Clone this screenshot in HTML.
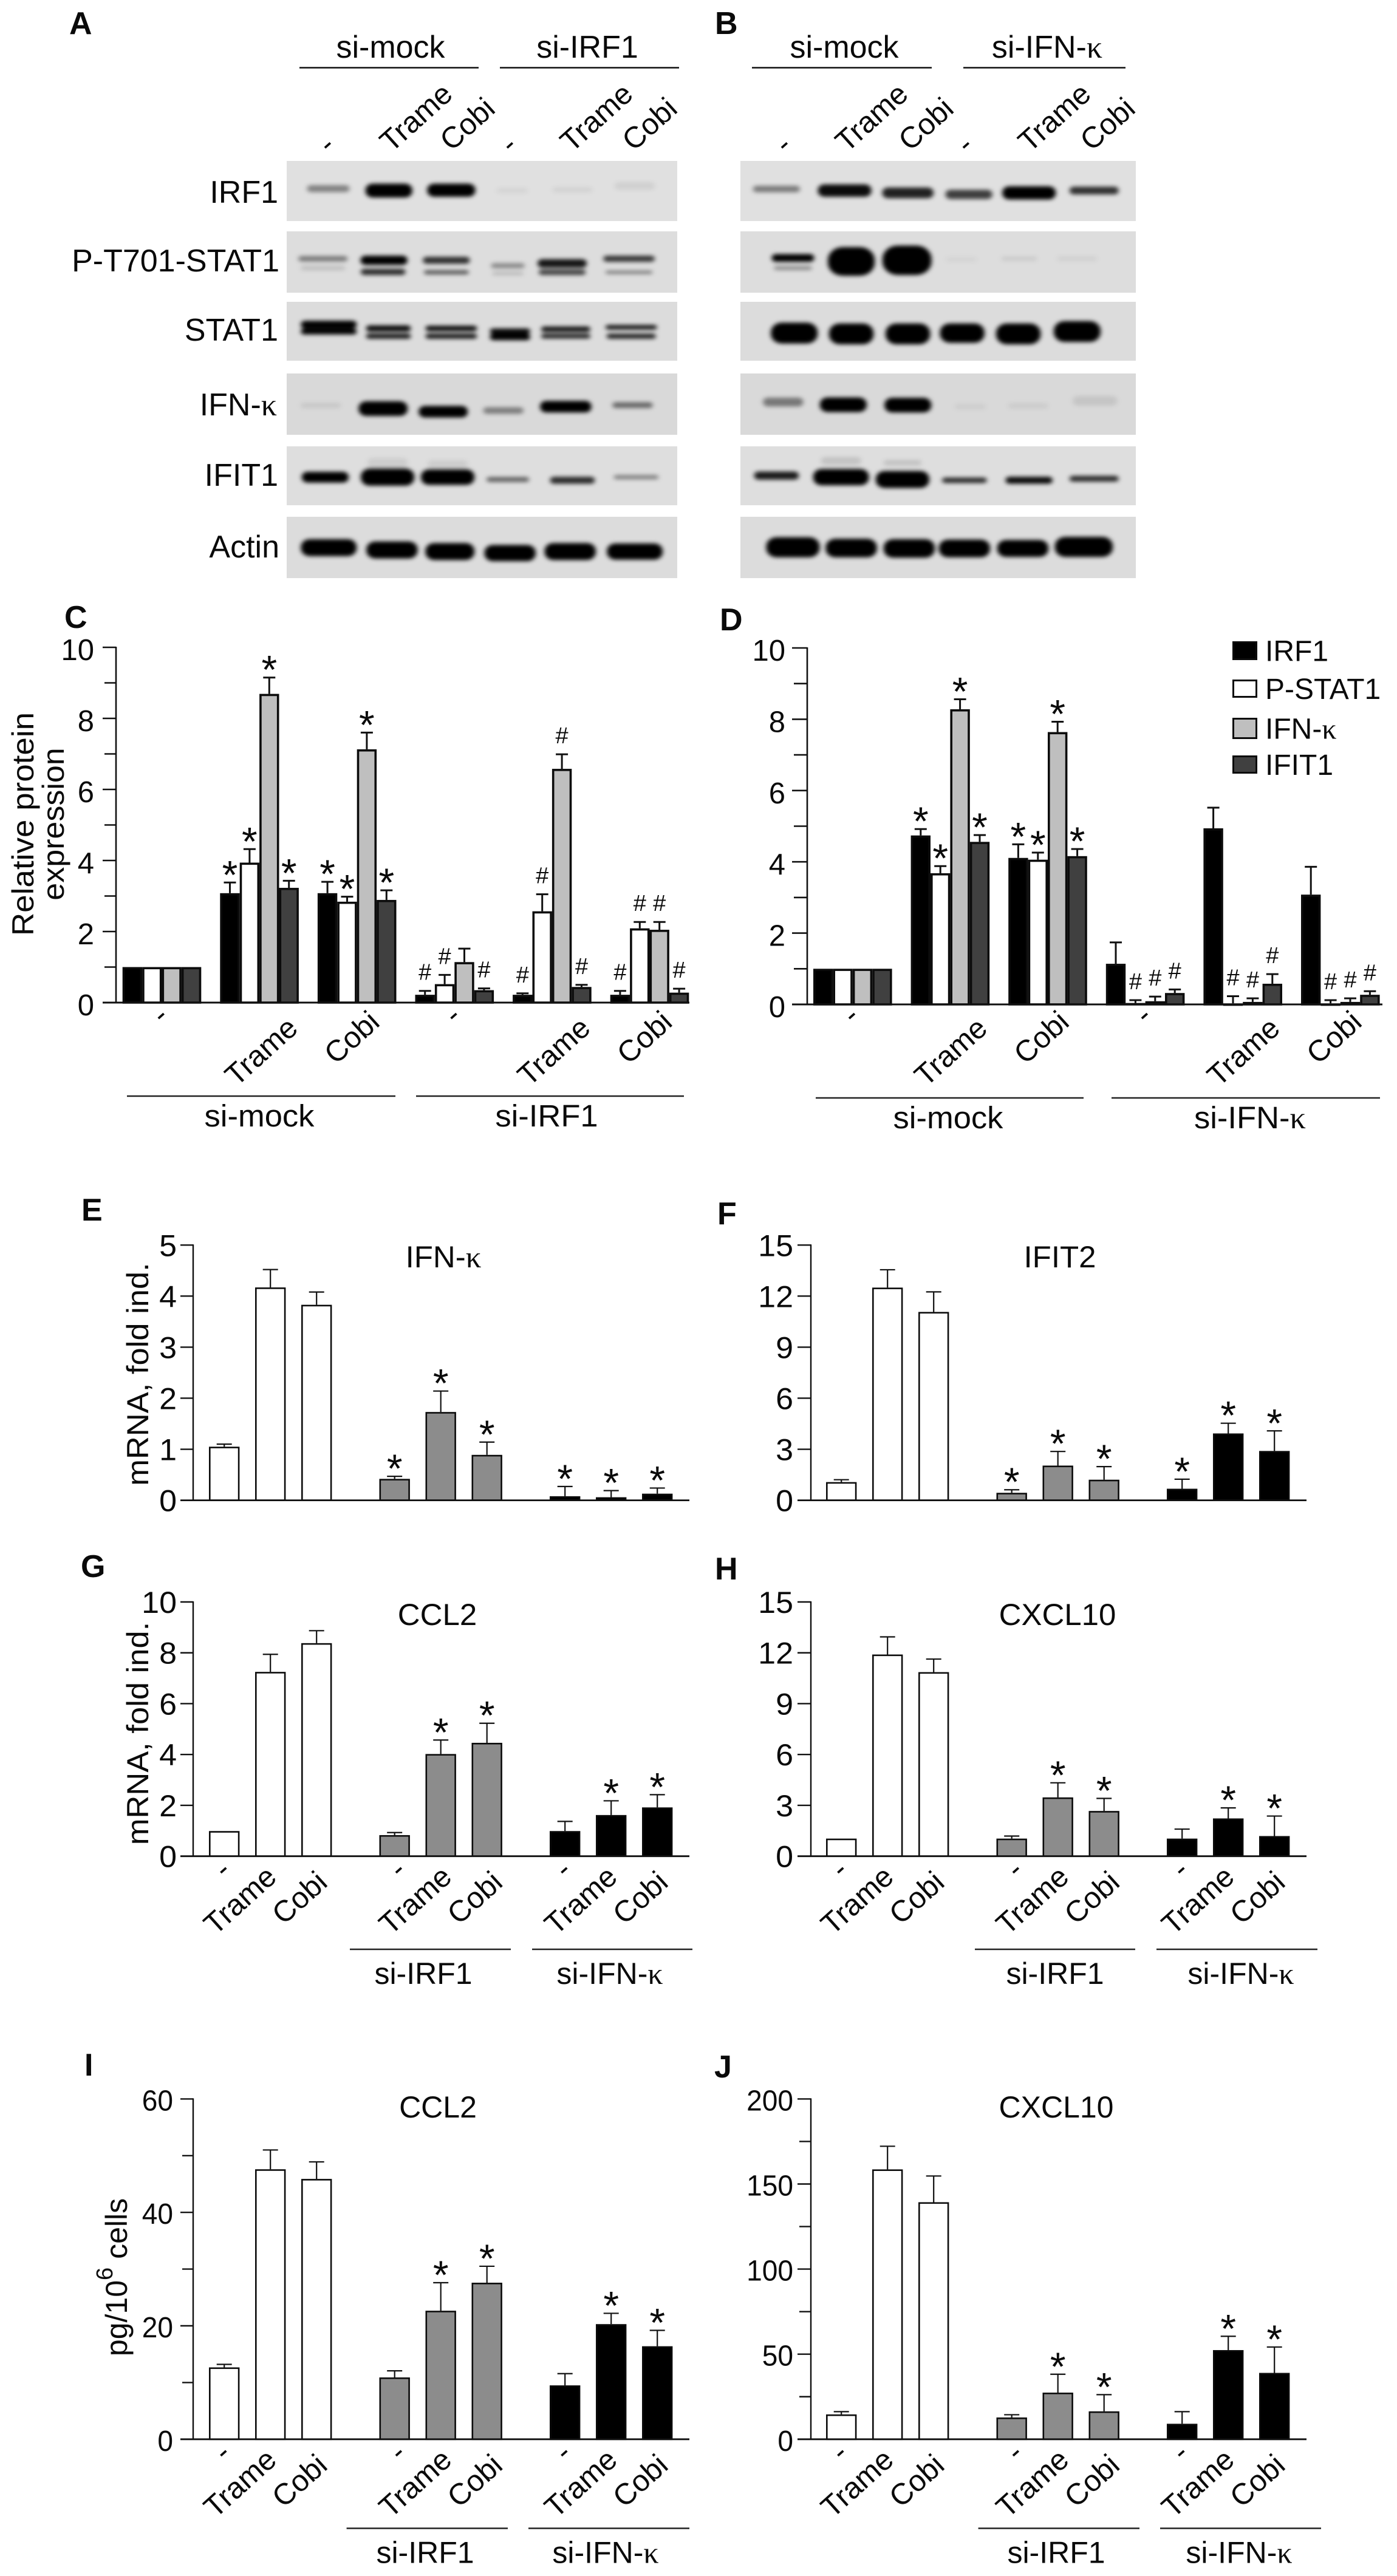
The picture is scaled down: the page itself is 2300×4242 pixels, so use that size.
<!DOCTYPE html>
<html lang="en">
<head>
<meta charset="utf-8">
<title>Western blots and bar charts</title>
<style>
html,body{margin:0;padding:0;background:#fff;}
svg{display:block;}
text{font-family:"Liberation Sans",Arial,sans-serif;fill:#0a0a0a;}
</style>
</head>
<body>
<svg id="fig" xmlns="http://www.w3.org/2000/svg" width="2300" height="4242" viewBox="0 0 2300 4242">
<defs><filter id="blurBand" x="-30%" y="-80%" width="160%" height="260%"><feGaussianBlur stdDeviation="5.5"/></filter></defs>
<rect width="2300" height="4242" fill="#fff"/>
</svg>
<script>
// ---------- Chart data ----------
const groupLabels = ['-', 'Trame', 'Cobi', '-', 'Trame', 'Cobi'];
const tickValues10 = [0, 2, 4, 6, 8, 10];
const tickLabels10 = ['0', '2', '4', '6', '8', '10'];
const minorValues10 = [1, 3, 5, 7, 9];
const legendNames = ['IRF1', 'P-STAT1', 'IFN-κ', 'IFIT1'];

const cIrf1 = [1, 3.08, 3.08, 0.22, 0.22, 0.22];
const cIrf1Err = [1, 3.38, 3.40, 0.33, 0.26, 0.33];
const cPstat1 = [1, 3.94, 2.84, 0.52, 2.57, 2.09];
const cPstat1Err = [1, 4.32, 2.98, 0.78, 3.05, 2.27];
const cIfnk = [1, 8.69, 7.13, 1.14, 6.58, 2.05];
const cIfnkErr = [1, 9.15, 7.60, 1.52, 6.99, 2.27];
const cIfit1 = [1, 3.23, 2.89, 0.35, 0.44, 0.28];
const cIfit1Err = [1, 3.43, 3.16, 0.40, 0.50, 0.39];
const cIrf1Marks = ['', '*', '*', '#', '#', '#'];
const cPstat1Marks = ['', '*', '*', '#', '#', '#'];
const cIfnkMarks = ['', '*', '*', '', '#', '#'];
const cIfit1Marks = ['', '*', '*', '#', '#', '#'];

const dIrf1 = [1, 4.74, 4.11, 1.14, 4.94, 3.08];
const dIrf1Err = [1, 4.92, 4.49, 1.74, 5.52, 3.86];
const dPstat1 = [1, 3.68, 4.06, 0.04, 0.03, 0.03];
const dPstat1Err = [1, 3.88, 4.26, 0.12, 0.23, 0.12];
const dIfnk = [1, 8.28, 7.64, 0.09, 0.07, 0.07];
const dIfnkErr = [1, 8.56, 7.93, 0.22, 0.17, 0.17];
const dIfit1 = [1, 4.56, 4.16, 0.32, 0.58, 0.27];
const dIfit1Err = [1, 4.75, 4.36, 0.42, 0.85, 0.37];
const dIrf1Marks = ['', '*', '*', '', '', ''];
const dPstat1Marks = ['', '*', '*', '#', '#', '#'];
const dIfnkMarks = ['', '*', '*', '#', '#', '#'];
const dIfit1Marks = ['', '*', '*', '#', '#', '#'];

const treatmentLabels = ['-', 'Trame', 'Cobi', '-', 'Trame', 'Cobi', '-', 'Trame', 'Cobi'];

const eValues = [1.05, 4.17, 3.83, 0.42, 1.73, 0.89, 0.08, 0.06, 0.13];
const eErrors = [1.10, 4.52, 4.08, 0.47, 2.14, 1.14, 0.27, 0.19, 0.24];
const eMarks = ['', '', '', '*', '*', '*', '*', '*', '*'];
const eTicks = [0, 1, 2, 3, 4, 5];
const eTickLabels = ['0', '1', '2', '3', '4', '5'];

const fValues = [1.07, 12.5, 11.07, 0.44, 2.04, 1.21, 0.68, 3.93, 2.9];
const fErrors = [1.21, 13.55, 12.25, 0.62, 2.87, 1.98, 1.24, 4.53, 4.08];
const fMarks = ['', '', '', '*', '*', '*', '*', '*', '*'];
const fTicks = [0, 3, 6, 9, 12, 15];
const fTickLabels = ['0', '3', '6', '9', '12', '15'];

const gValues = [0.99, 7.25, 8.38, 0.83, 4.02, 4.46, 0.99, 1.62, 1.92];
const gErrors = [0.99, 7.94, 8.87, 0.93, 4.57, 5.23, 1.37, 2.18, 2.42];
const gMarks = ['', '', '', '', '*', '*', '', '*', '*'];
const gTicks = [0, 2, 4, 6, 8, 10];
const gTickLabels = ['0', '2', '4', '6', '8', '10'];

const hValues = [1.04, 11.9, 10.86, 1.04, 3.47, 2.67, 1.04, 2.23, 1.19];
const hErrors = [1.04, 12.94, 11.63, 1.19, 4.33, 3.41, 1.6, 2.85, 2.37];
const hMarks = ['', '', '', '', '*', '*', '', '*', '*'];
const hTicks = [0, 3, 6, 9, 12, 15];
const hTickLabels = ['0', '3', '6', '9', '12', '15'];

const iValues = [12.67, 47.6, 45.9, 10.9, 22.66, 27.6, 9.5, 20.3, 16.4];
const iErrors = [13.2, 51, 48.9, 12.06, 27.6, 30.5, 11.57, 22.2, 19.2];
const iMarks = ['', '', '', '', '*', '*', '', '*', '*'];
const iTicks = [0, 20, 40, 60];
const iTickLabels = ['0', '20', '40', '60'];
const iMinor = [10, 30, 50];

const jValues = [14.6, 158.6, 139.3, 12.8, 27.4, 16.4, 9.1, 52.4, 39];
const jErrors = [16.2, 172.2, 154.7, 14.4, 38.2, 26.2, 16.2, 60.5, 54.2];
const jMarks = ['', '', '', '', '*', '*', '', '*', '*'];
const jTicks = [0, 50, 100, 150, 200];
const jTickLabels = ['0', '50', '100', '150', '200'];
const jMinor = [25, 75, 125, 175];

// ---------- Helpers ----------
const NS = 'http://www.w3.org/2000/svg';
const fig = document.getElementById('fig');
const LABEL_ANGLE = -42;
const LABEL_SIZE = 49;

function mk(tag, attrs, parent, name) {
  const el = document.createElementNS(NS, tag);
  for (const k in attrs) el.setAttribute(k, attrs[k]);
  
  
  (parent || fig).appendChild(el);
  return el;
}
function grp(parent, name, extra) {
  return mk('g', extra || {}, parent, name);
}
function line(parent, x1, y1, x2, y2, sw, name, color) {
  return mk('line', {x1, y1, x2, y2, stroke: color || '#111', 'stroke-width': sw}, parent, name);
}
function fillText(el, str) {
  const i = str.indexOf('κ');
  if (i < 0) { el.textContent = str; return; }
  el.appendChild(document.createTextNode(str.slice(0, i)));
  const t = document.createElementNS(NS, 'tspan');
  t.setAttribute('font-family', '"Liberation Serif",serif');
  t.setAttribute('style', 'font-family:"Liberation Serif",serif');
  t.textContent = 'κ';
  el.appendChild(t);
}
function txt(parent, x, y, str, size, anchor, name, opt) {
  opt = opt || {};
  let tf = 'translate(' + x + ',' + y + ')';
  if (opt.rot) tf += ' rotate(' + opt.rot + ')';
  if (opt.sx) tf += ' scale(' + opt.sx + ',1)';
  const el = mk('text', {transform: tf, 'font-size': size, 'text-anchor': anchor || 'start'}, parent, name);
  if (opt.bold) el.setAttribute('font-weight', 'bold');
  fillText(el, str);
  return el;
}

// ---------- Panel letters ----------
const letters = grp(fig, 'panel-letters');
[['A',114,56],['B',1177,56],['C',106,1034],['D',1185,1038],['E',134,2010],['F',1181,2016],
 ['G',133,2597],['H',1177,2601],['I',139,3418],['J',1176,3421]].forEach(function (p) {
  txt(letters, p[1], p[2], p[0], 52, 'start', 'panel-letter-' + p[0].toLowerCase(), {bold: true});
});

// ---------- Western blots ----------
function drawBlot(name, x1, x2, rows, ox, bands) {
  const g = grp(fig, name);
  rows.forEach(function (r) {
    mk('rect', {x: x1, y: r[0], width: x2 - x1, height: r[1] - r[0], fill: r[2]}, g, 'blot-row-background');
  });
  const clipG = grp(g, name + '-bands', {transform: 'translate(' + ox + ',0) scale(0.7334,0.6378)', filter: 'url(#blurBand)'});
  bands.forEach(function (b) {
    mk('rect', {x: b[0] - b[2] / 2, y: b[1] - b[3] / 2, width: b[2], height: b[3], rx: Math.min(b[2], b[3]) / 2.2,
      fill: '#050505', 'fill-opacity': b[4]}, clipG, 'protein-band');
  });
}
const rowsA = [[265,364,'#e0e0e0'],[381,482,'#dddddd'],[497,594,'#dcdcdc'],[615,716,'#d9d9d9'],[735,832,'#dedede'],[851,952,'#dcdcdc']];
drawBlot('blot-panel-a', 472, 1115, rowsA, 0, [
  [737,487,95,18,.42],[873,492,105,36,1],[1013,491,108,34,1],[1150,492,70,14,.05],[1285,490,90,14,.06],[1425,480,90,20,.07],
  [725,668,110,14,.45],[725,692,100,13,.12],[862,672,105,24,1],[860,702,100,16,.8],[1002,672,105,18,.78],[1002,703,100,11,.6],
  [1140,686,75,13,.38],[1140,706,70,10,.15],[1262,680,110,22,.9],[1262,703,105,14,.7],[1412,668,115,16,.75],[1412,703,105,9,.42],
  [738,838,125,20,1],[738,856,125,15,1],[872,848,100,16,.95],[872,868,100,13,.9],[1013,848,115,14,.95],[1013,868,115,13,.9],
  [1145,855,90,14,.95],[1145,870,90,17,1],[1270,850,110,14,.9],[1270,868,110,12,.85],[1417,845,115,12,.9],[1417,868,110,13,.85],
  [720,1047,90,14,.08],[860,1055,110,38,1],[995,1063,110,30,1],[1130,1060,90,17,.42],[1270,1050,115,30,1],[1420,1046,90,15,.52],
  [730,1232,105,28,1],[870,1232,120,44,1],[1005,1232,120,40,1],[1140,1238,95,13,.55],[1285,1240,100,18,.8],[1428,1232,100,11,.42],
  [870,1195,90,25,.08],[1005,1198,90,20,.08],
  [738,1414,125,44,1],[880,1420,115,44,1],[1010,1424,110,44,1],[1145,1428,115,42,1],[1280,1424,115,44,1],[1425,1424,125,42,1]
]);
drawBlot('blot-panel-b', 1219, 1870, rowsA, 1150, [
  [175,488,105,17,.45],[328,492,120,32,.95],[470,498,115,28,.85],[607,502,105,24,.72],[742,498,120,34,1],[888,492,110,20,.78],
  [212,666,95,20,1],[212,692,85,11,.35],[343,675,105,74,1],[468,672,110,76,1],[590,670,70,14,.04],[720,668,80,12,.08],[850,668,90,14,.05],
  [215,860,105,54,1],[343,862,100,54,1],[470,862,100,54,1],[592,860,100,50,1],[718,862,100,54,1],[850,856,105,54,1],
  [190,1038,90,23,.45],[325,1045,105,38,1],[470,1046,105,38,1],[610,1050,70,15,.05],[740,1048,90,15,.06],[890,1035,100,25,.09],
  [175,1228,100,21,.88],[320,1232,125,42,1],[458,1238,120,44,1],[597,1240,100,14,.8],[742,1240,105,18,.95],[888,1236,110,15,.8],
  [320,1190,90,20,.12],[458,1195,85,15,.12],
  [212,1413,120,52,1],[343,1415,115,48,1],[473,1416,115,48,1],[597,1416,115,46,1],[728,1416,115,44,1],[865,1412,130,52,1]
]);

const blotLabels = grp(fig, 'blot-row-labels');
[['IRF1',458,334],['P-T701-STAT1',460,447],['STAT1',458,561],['IFN-κ',456,684],['IFIT1',458,800],['Actin',460,918]].forEach(function (r) {
  txt(blotLabels, r[1], r[2], r[0], 52, 'end', 'blot-label-' + r[0].toLowerCase());
});

function blotHeader(name, lines, laneX) {
  const g = grp(fig, name);
  lines.forEach(function (l) {
    line(g, l[1], 111.5, l[2], 111.5, 2.6, 'treatment-group-line');
    txt(g, l[3], 95, l[0], 52, 'middle', 'treatment-group-label');
  });
  laneX.forEach(function (l) {
    if (l[0] === '-') txt(g, l[1] + 7, 249, '-', LABEL_SIZE, 'middle', 'lane-label', {rot: LABEL_ANGLE});
    else txt(g, l[1], l[0] === 'Trame' ? 159 : 183, l[0], LABEL_SIZE, 'end', 'lane-label', {rot: LABEL_ANGLE});
  });
}
blotHeader('blot-header-a', [['si-mock',493,788,643],['si-IRF1',823,1118,967]],
  [['-',541],['Trame',748],['Cobi',818],['-',841],['Trame',1045],['Cobi',1118]]);
blotHeader('blot-header-b', [['si-mock',1238,1534,1390],['si-IFN-κ',1586,1853,1724]],
  [['-',1293],['Trame',1498],['Cobi',1573],['-',1592],['Trame',1799],['Cobi',1872]]);

// ---------- Chart drawing ----------
function drawAxes(g, c) {
  const y = function (v) { return c.y0 - v / c.yMax * (c.y0 - c.yTop); };
  line(g, c.axisX, c.yTop - 1, c.axisX, c.y0, c.axisW, 'y-axis-line');
  line(g, c.tickLeft, c.y0, c.xEnd, c.y0, c.axisW + .4, 'x-axis-line');
  c.ticks.forEach(function (v, i) {
    if (v !== 0) line(g, c.tickLeft, y(v), c.axisX, y(v), c.axisW, 'y-major-tick');
    txt(g, c.labelRight, y(v) + c.labelDrop, c.tickLabels[i], c.tickSize, 'end', 'y-tick-label', {sx: c.tickSx});
  });
  (c.minor || []).forEach(function (v) {
    line(g, c.tickLeft + 3, y(v), c.axisX, y(v), c.axisW, 'y-minor-tick');
  });
  return y;
}
function drawMark(g, x, errY, mark, c) {
  if (!mark) return;
  if (mark === '*') txt(g, x, errY - c.starGap + 37, '*', 66, 'middle', 'significance-star');
  else txt(g, x, errY - c.hashGap + 14, '#', 38, 'middle', 'significance-hash');
}
function drawBar(g, x, w, val, err, fill, y, c, mark) {
  const cx = x + w / 2;
  if (err > val) {
    line(g, cx, y(err), cx, y(val), c.errW, 'error-bar-stem');
    line(g, cx - c.capW / 2, y(err), cx + c.capW / 2, y(err), c.errW, 'error-bar-cap');
  }
  const sw = c.barSw;
  mk('rect', {x: x + sw / 2, y: y(val) + sw / 2, width: w - sw, height: Math.max(y(0) - y(val) - sw / 2, 0.5),
    fill: fill, stroke: '#0c0c0c', 'stroke-width': sw}, g, 'bar');
  drawMark(g, cx, y(err), mark, c);
}
function rotLabel(g, label, cx, y0, d) {
  if (label === '-') txt(g, cx + 7.4, y0 + d.dash + 8.8, '-', LABEL_SIZE, 'middle', 'x-tick-label', {rot: LABEL_ANGLE});
  else if (label === 'Trame') txt(g, cx + d.tx, y0 + d.ty, label, LABEL_SIZE, 'end', 'x-tick-label', {rot: LABEL_ANGLE});
  else txt(g, cx + d.cx, y0 + d.cy, label, LABEL_SIZE, 'end', 'x-tick-label', {rot: LABEL_ANGLE});
}
function drawGroups(g, groups, yLine, yText, size, sx) {
  groups.forEach(function (gr) {
    line(g, gr[1], yLine, gr[2], yLine, 2.6, 'treatment-group-line', '#222');
    txt(g, gr[3], yText, gr[0], size, 'middle', 'treatment-group-label', {sx: sx});
  });
}

function drawProteinChart(c) {
  const g = grp(fig, c.name);
  const y = function (v) { return c.y0 - v / c.yMax * (c.y0 - c.yTop); };
  const fills = ['#000000', '#ffffff', '#bfbfbf', '#404040'];
  const barW = 32.4, step = 160.6;
  groupLabels.forEach(function (label, gi) {
    const x0 = c.firstX + gi * step;
    c.series.forEach(function (s, si) {
      drawBar(g, x0 + si * barW, barW, s[0][gi], s[1][gi], fills[si], y, c, s[2][gi]);
    });
    rotLabel(g, label, x0 + 2 * barW, c.y0, c.rot);
  });
  drawAxes(g, c);
  drawGroups(g, c.groups, c.y0 + 154, c.y0 + 204, 51, 1.03);
  return g;
}

const proteinStyle = {
  yMax: 10, axisW: 2.6, tickSize: 49, tickSx: 1, labelDrop: 21, barSw: 3.6, errW: 3, capW: 20, starGap: 27, hashGap: 32,
  ticks: tickValues10, tickLabels: tickLabels10, minor: minorValues10
};

const chartC = drawProteinChart(Object.assign({}, proteinStyle, {
  name: 'chart-c-relative-protein', y0: 1651, yTop: 1066, axisX: 191, tickLeft: 169, xEnd: 1135, labelRight: 155, firstX: 201.7,
  rot: {dash: 23, tx: 66, ty: 46, cx: 40, cy: 36},
  series: [[cIrf1, cIrf1Err, cIrf1Marks], [cPstat1, cPstat1Err, cPstat1Marks], [cIfnk, cIfnkErr, cIfnkMarks], [cIfit1, cIfit1Err, cIfit1Marks]],
  groups: [['si-mock', 209, 651, 427], ['si-IRF1', 685, 1126, 900]]
}));
txt(chartC, 55, 1357, 'Relative protein', 50, 'middle', 'y-axis-title', {rot: -90, sx: 1.06});
txt(chartC, 105, 1357, 'expression', 50, 'middle', 'y-axis-title', {rot: -90, sx: 1.04});

const chartD = drawProteinChart(Object.assign({}, proteinStyle, {
  name: 'chart-d-relative-protein', y0: 1654, yTop: 1067, axisX: 1329, tickLeft: 1304, xEnd: 2276, labelRight: 1293, firstX: 1339,
  rot: {dash: 20, tx: 64, ty: 43.5, cx: 38, cy: 33},
  series: [[dIrf1, dIrf1Err, dIrf1Marks], [dPstat1, dPstat1Err, dPstat1Marks], [dIfnk, dIfnkErr, dIfnkMarks], [dIfit1, dIfit1Err, dIfit1Marks]],
  groups: [['si-mock', 1343, 1784, 1561], ['si-IFN-κ', 1830, 2272, 2058]]
}));

const legend = grp(fig, 'legend');
const legendFills = ['#000000', '#ffffff', '#bfbfbf', '#404040'];
const legendBoxes = [[1056, 31], [1119, 30], [1182, 35], [1244, 30]];
legendNames.forEach(function (n, i) {
  const entry = grp(legend, 'legend-entry');
  mk('rect', {x: 2030.5, y: legendBoxes[i][0] + 1.5, width: 38, height: legendBoxes[i][1] - 3,
    fill: legendFills[i], stroke: '#0c0c0c', 'stroke-width': 3}, entry, 'legend-swatch');
  txt(entry, 2083, legendBoxes[i][0] + legendBoxes[i][1] / 2 + 17, n, 48, 'start', 'legend-label');
});

function drawClusterChart(c) {
  const g = grp(fig, c.name);
  const y = function (v) { return c.y0 - v / c.yMax * (c.y0 - c.yTop); };
  const fills = ['#ffffff', '#8c8c8c', '#000000'];
  const barW = 50.4, step = 76, cluster = 280.5;
  c.values.forEach(function (val, i) {
    const cl = Math.floor(i / 3);
    const x = c.firstX + cl * cluster + (i % 3) * step;
    drawBar(g, x, barW, val, c.errors[i], fills[cl], y, c, c.marks[i]);
    if (c.labels) {
      rotLabel(g, c.labels[i], x + barW / 2 + (cl === 1 ? 8 : 0), c.y0, {dash: 24, tx: 13, ty: 38, cx: 20.5, cy: 47});
    }
  });
  drawAxes(g, c);
  if (c.title) txt(g, c.title[1], c.title[2], c.title[0], 50, 'middle', 'chart-title', {sx: c.titleSx});
  if (c.groups) drawGroups(g, c.groups, c.lineY, c.lineY + 57, 50, 1);
  return g;
}
const clusterStyle = {axisW: 2.4, tickSize: 50, tickSx: 1.04, labelDrop: 18, barSw: 2.6, errW: 2.2, capW: 25, starGap: 27, hashGap: 30};
const leftCol = {axisX: 318, tickLeft: 297, xEnd: 1135, labelRight: 291, firstX: 344};
const rightCol = {axisX: 1335, tickLeft: 1313, xEnd: 2151, labelRight: 1306, firstX: 1360};
const topRow = {y0: 2470.6, yTop: 2050.3};
const midRow = {y0: 3056.7, yTop: 2638};
const lastRow = {y0: 4016.8, yTop: 3456.4, tickSize: 48, tickSx: .96, labelDrop: 19};

const chartE = drawClusterChart(Object.assign({}, clusterStyle, leftCol, topRow, {
  name: 'chart-e-ifn-kappa-mrna', yMax: 5, values: eValues, errors: eErrors, marks: eMarks, ticks: eTicks, tickLabels: eTickLabels,
  title: ['IFN-κ', 730, 2087], titleSx: 1.02
}));
txt(chartE, 244, 2263, 'mRNA, fold ind.', 50, 'middle', 'y-axis-title', {rot: -90, sx: 1.05});

drawClusterChart(Object.assign({}, clusterStyle, rightCol, topRow, {
  name: 'chart-f-ifit2-mrna', yMax: 15, values: fValues, errors: fErrors, marks: fMarks, ticks: fTicks, tickLabels: fTickLabels,
  title: ['IFIT2', 1745, 2087], titleSx: 1.02
}));

const chartG = drawClusterChart(Object.assign({}, clusterStyle, leftCol, midRow, {
  name: 'chart-g-ccl2-mrna', yMax: 10, values: gValues, errors: gErrors, marks: gMarks, ticks: gTicks, tickLabels: gTickLabels,
  labels: treatmentLabels, title: ['CCL2', 720, 2676], titleSx: 1.02, lineY: 3210,
  groups: [['si-IRF1', 576, 841, 697], ['si-IFN-κ', 876, 1140, 1004]]
}));
txt(chartG, 244, 2854.5, 'mRNA, fold ind.', 50, 'middle', 'y-axis-title', {rot: -90, sx: 1.05});

drawClusterChart(Object.assign({}, clusterStyle, rightCol, midRow, {
  name: 'chart-h-cxcl10-mrna', yMax: 15, values: hValues, errors: hErrors, marks: hMarks, ticks: hTicks, tickLabels: hTickLabels,
  labels: treatmentLabels, title: ['CXCL10', 1741, 2676], titleSx: 1.02, lineY: 3210,
  groups: [['si-IRF1', 1605, 1869, 1737], ['si-IFN-κ', 1904, 2169, 2043]]
}));

const chartI = drawClusterChart(Object.assign({}, clusterStyle, leftCol, lastRow, {
  name: 'chart-i-ccl2-protein', yMax: 60, values: iValues, errors: iErrors, marks: iMarks, ticks: iTicks, tickLabels: iTickLabels, minor: iMinor,
  labels: treatmentLabels, title: ['CCL2', 721, 3487], titleSx: 1, lineY: 4163.5, labelRight: 285,
  groups: [['si-IRF1', 570.6, 836, 700], ['si-IFN-κ', 870, 1135, 997]]
}));
const iTitle = mk('text', {transform: 'translate(209,3750) rotate(-90)', 'font-size': 50, 'text-anchor': 'middle'}, chartI, 'y-axis-title');
iTitle.appendChild(document.createTextNode('pg/10'));
const iSup = document.createElementNS(NS, 'tspan');
iSup.setAttribute('dy', '-24');
iSup.setAttribute('font-size', '38');
iSup.textContent = '6';
iTitle.appendChild(iSup);
const iRest = document.createElementNS(NS, 'tspan');
iRest.setAttribute('dy', '24');
iRest.textContent = ' cells';
iTitle.appendChild(iRest);

drawClusterChart(Object.assign({}, clusterStyle, rightCol, lastRow, {
  name: 'chart-j-cxcl10-protein', yMax: 200, values: jValues, errors: jErrors, marks: jMarks, ticks: jTicks, tickLabels: jTickLabels, minor: jMinor,
  labels: treatmentLabels, title: ['CXCL10', 1739, 3487], titleSx: 1, lineY: 4163.5,
  groups: [['si-IRF1', 1610.6, 1876, 1739], ['si-IFN-κ', 1910, 2175, 2040]]
}));
</script>
</body>
</html>
